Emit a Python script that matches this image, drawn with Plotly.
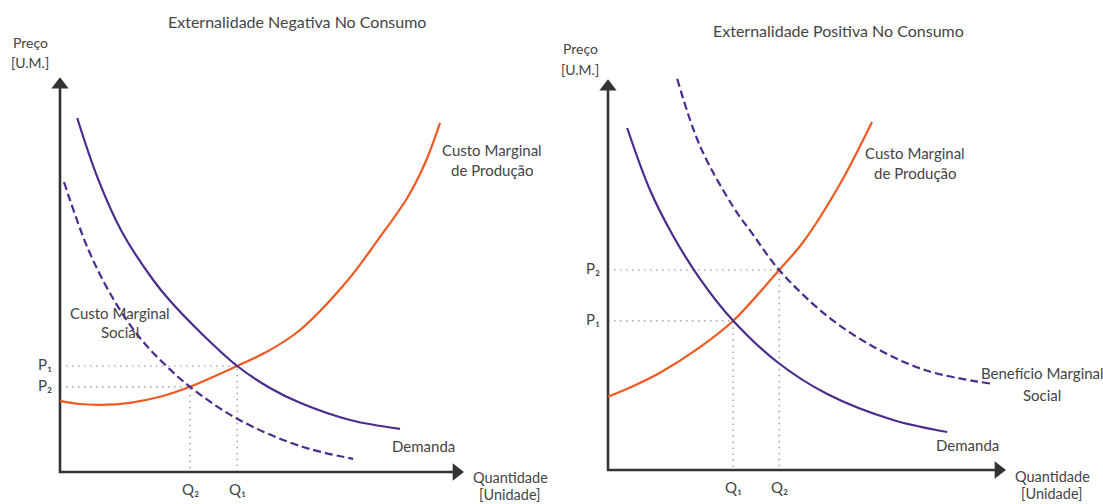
import plotly.graph_objects as go

# ---------------- data (quantity / price units) ----------------
# Left panel: Externalidade Negativa No Consumo
neg_demand_q = [0.43, 0.95, 1.55, 2.33, 2.75, 3.50, 4.43, 5.25, 6.00, 7.25, 8.50]
neg_demand_p = [8.85, 7.33, 6.00, 4.80, 4.28, 3.50, 2.65, 2.10, 1.73, 1.30, 1.08]
neg_cms_q = [0.10, 0.70, 1.33, 2.00, 2.63, 3.25, 4.43, 6.00, 7.33]
neg_cms_p = [7.25, 5.58, 4.33, 3.35, 2.68, 2.13, 1.33, 0.65, 0.33]
neg_cmp_q = [0.00, 0.50, 1.00, 1.75, 2.50, 3.25, 4.43, 5.25, 6.00, 7.20, 7.93, 8.68, 9.13, 9.50]
neg_cmp_p = [1.78, 1.70, 1.68, 1.73, 1.88, 2.13, 2.65, 3.05, 3.55, 4.80, 5.78, 6.85, 7.73, 8.73]
neg_eq_q = [4.43, 3.25]   # Q1, Q2
neg_eq_p = [2.65, 2.13]   # P1, P2
neg_axis_len = [10.08, 9.85]

# Right panel: Externalidade Positiva No Consumo
pos_demand_q = [0.48, 1.05, 1.63, 2.30, 3.13, 4.23, 5.48, 7.13, 8.48]
pos_demand_p = [8.55, 7.00, 5.85, 4.78, 3.73, 2.70, 1.90, 1.25, 0.95]
pos_bms_q = [1.73, 2.30, 3.13, 3.63, 4.28, 5.48, 6.73, 7.98, 9.63]
pos_bms_p = [9.78, 8.10, 6.58, 5.88, 5.00, 3.85, 3.03, 2.48, 2.15]
pos_cmp_q = [0.00, 0.55, 1.30, 2.30, 3.13, 4.28, 4.88, 5.80, 6.60]
pos_cmp_p = [1.83, 2.06, 2.43, 3.07, 3.73, 5.00, 5.70, 7.15, 8.70]
pos_eq_q = [3.13, 4.28]   # Q1, Q2
pos_eq_p = [3.73, 5.00]   # P1, P2
pos_axis_len = [9.93, 9.75]

titles = ["Externalidade Negativa No Consumo", "Externalidade Positiva No Consumo"]
q_labels = ["Q₁", "Q₂"]
p_labels = ["P₁", "P₂"]

# ---------------- styles ----------------
W, H = 1103, 504
PX = 40.0  # pixels per data unit
PURPLE = "#4b2c8c"
ORANGE = "#f05a22"
AXIS = "#333333"
TXT = "#444444"
GUIDE = "#8a8a8a"
FONT = "Lato, DejaVu Sans"
HEAD = 15  # arrowhead marker size (px)

fig = go.Figure()


def curve(q, p, color, dash, xa, ya):
    fig.add_trace(go.Scatter(
        x=q, y=p, mode="lines", xaxis=xa, yaxis=ya,
        line=dict(color=color, width=2.2, dash=dash, shape="spline", smoothing=1.0),
        hoverinfo="skip", showlegend=False))


def guides(qs, ps, xa, ya):
    for q, p in zip(qs, ps):
        fig.add_trace(go.Scatter(
            x=[0, q, q], y=[p, p, 0], mode="lines", xaxis=xa, yaxis=ya,
            line=dict(color=GUIDE, width=1.2, dash="1.5px,4.5px"),
            hoverinfo="skip", showlegend=False))


def axes(L, xa, ya):
    off = HEAD * 0.45 / PX
    fig.add_trace(go.Scatter(
        x=[L[0] - off, 0, 0], y=[0, 0, L[1] - off], mode="lines", xaxis=xa, yaxis=ya,
        line=dict(color=AXIS, width=2.6), hoverinfo="skip", showlegend=False))
    fig.add_trace(go.Scatter(
        x=[L[0] - off, 0], y=[0, L[1] - off], mode="markers", xaxis=xa, yaxis=ya,
        marker=dict(symbol=["triangle-right", "triangle-up"], size=HEAD, color=AXIS,
                    line=dict(width=0)),
        hoverinfo="skip", showlegend=False))


guides(neg_eq_q, neg_eq_p, "x", "y")
guides(pos_eq_q, pos_eq_p, "x2", "y2")
axes(neg_axis_len, "x", "y")
axes(pos_axis_len, "x2", "y2")

curve(neg_cmp_q, neg_cmp_p, ORANGE, "solid", "x", "y")
curve(neg_demand_q, neg_demand_p, PURPLE, "solid", "x", "y")
curve(neg_cms_q, neg_cms_p, PURPLE, "8px,4px", "x", "y")

curve(pos_cmp_q, pos_cmp_p, ORANGE, "solid", "x2", "y2")
curve(pos_demand_q, pos_demand_p, PURPLE, "solid", "x2", "y2")
curve(pos_bms_q, pos_bms_p, PURPLE, "8px,4px", "x2", "y2")

ann = []


def txt(text, px, py, size=15, xanchor="center"):
    ann.append(dict(text=text, x=px / W, y=1 - py / H, xref="paper", yref="paper",
                    showarrow=False, xanchor=xanchor, yanchor="middle",
                    font=dict(family=FONT, size=size, color=TXT)))


def lab(text, q, p, xr, yr, size=15):
    ann.append(dict(text=text, x=q, y=p, xref=xr, yref=yr, showarrow=False,
                    xanchor="center", yanchor="middle",
                    font=dict(family=FONT, size=size, color=TXT)))


# equilibrium tick labels
for xr, yr, qs, ps in (("x", "y", neg_eq_q, neg_eq_p), ("x2", "y2", pos_eq_q, pos_eq_p)):
    for i in range(2):
        lab(q_labels[i], qs[i], -0.42, xr, yr)
        lab(p_labels[i], -0.38, ps[i] + 0.05, xr, yr)

# titles
txt(titles[0], 297, 22, 16)
txt(titles[1], 838, 30, 16)

# left panel text
txt("Preço", 30, 42, 14)
txt("[U.M.]", 30, 62, 14)
txt("Custo Marginal", 120, 313)
txt("Social", 120, 332)
txt("Custo Marginal", 492, 150)
txt("de Produção", 492, 170)
txt("Demanda", 423, 446)
txt("Quantidade", 510, 477, 14.5)
txt("[Unidade]", 510, 494, 14.5)

# right panel text
txt("Preço", 580, 49, 14)
txt("[U.M.]", 580, 70, 14)
txt("Custo Marginal", 915, 153)
txt("de Produção", 915, 173)
txt("Benefício Marginal", 1042, 373)
txt("Social", 1042, 395)
txt("Demanda", 967, 445)
txt("Quantidade", 1052, 476, 14.5)
txt("[Unidade]", 1052, 493, 14.5)

hidden = dict(visible=False, showgrid=False, zeroline=False, fixedrange=True)
fig.update_layout(
    width=W, height=H,
    margin=dict(l=0, r=0, t=0, b=0),
    paper_bgcolor="white", plot_bgcolor="white",
    xaxis=dict(domain=[0, 0.5], range=[-60 / PX, (W / 2 - 60) / PX], **hidden),
    yaxis=dict(domain=[0, 1], range=[(472 - H) / PX, 472 / PX], **hidden),
    xaxis2=dict(domain=[0.5, 1], range=[(W / 2 - 608) / PX, (W - 608) / PX], anchor="y2", **hidden),
    yaxis2=dict(domain=[0, 1], range=[(470 - H) / PX, 470 / PX], anchor="x2", **hidden),
    annotations=ann,
    showlegend=False,
)

fig.write_html(
    "out.html",
    config={"displayModeBar": False},
    post_script="document.body.style.margin='0';document.body.style.overflow='hidden';",
)
